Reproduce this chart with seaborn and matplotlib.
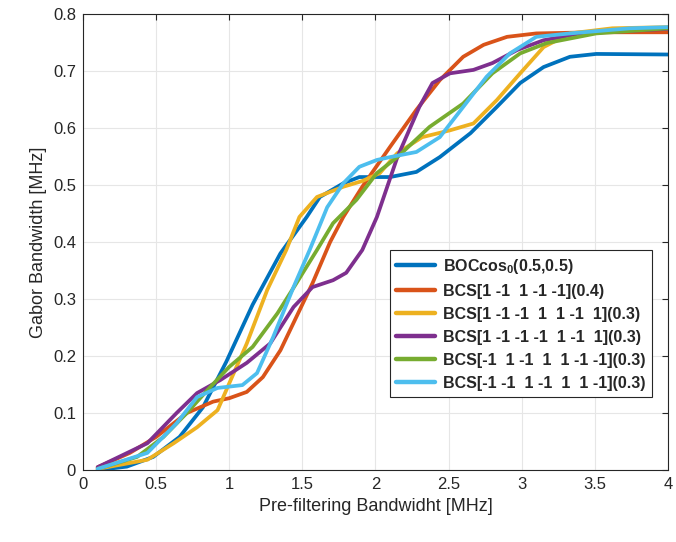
import pandas as pd
import matplotlib
matplotlib.use("Agg")
import matplotlib.pyplot as plt
import seaborn as sns

sns.set_style("whitegrid")
plt.rcParams['font.family'] = ['Liberation Sans', 'DejaVu Sans']
plt.rcParams['mathtext.fontset'] = 'custom'
plt.rcParams['mathtext.bf'] = 'Liberation Sans:bold'
plt.rcParams['mathtext.rm'] = 'Liberation Sans'

# Series (x in MHz, y in MHz)
labels = [
    r'BOCcos$_{\mathbf{0}}$(0.5,0.5)',
    'BCS[1 -1  1 -1 -1](0.4)',
    'BCS[1 -1 -1  1  1 -1  1](0.3)',
    'BCS[1 -1 -1 -1  1 -1  1](0.3)',
    'BCS[-1  1 -1  1  1 -1 -1](0.3)',
    'BCS[-1 -1  1 -1  1  1 -1](0.3)',
]
colors = ['#0072BD', '#D95319', '#EDB120', '#7E2F8E', '#77AC30', '#4DBEEE']

boc_x = [0.1, 0.3, 0.48, 0.66, 0.82, 0.98, 1.16, 1.35, 1.53, 1.62, 1.78, 1.89, 2.1, 2.28, 2.44, 2.65, 2.83, 2.99, 3.15, 3.33, 3.51, 4.0]
boc_y = [0.0, 0.006, 0.023, 0.058, 0.11, 0.19, 0.29, 0.38, 0.444, 0.479, 0.503, 0.514, 0.514, 0.523, 0.549, 0.591, 0.637, 0.679, 0.707, 0.725, 0.73, 0.729]

bcs1_x = [0.1, 0.32, 0.5, 0.71, 0.89, 1.0, 1.12, 1.23, 1.35, 1.46, 1.57, 1.69, 1.78, 1.91, 2.1, 2.28, 2.44, 2.6, 2.74, 2.9, 3.1, 3.5, 4.0]
bcs1_y = [0.005, 0.03, 0.058, 0.1, 0.12, 0.126, 0.137, 0.163, 0.21, 0.269, 0.328, 0.4, 0.444, 0.497, 0.567, 0.632, 0.684, 0.725, 0.746, 0.76, 0.766, 0.768, 0.768]

bcs2_x = [0.1, 0.44, 0.62, 0.78, 0.92, 1.0, 1.12, 1.26, 1.39, 1.48, 1.6, 1.78, 1.91, 2.03, 2.15, 2.32, 2.51, 2.67, 2.83, 2.99, 3.15, 3.33, 3.62, 4.0]
bcs2_y = [0.002, 0.018, 0.047, 0.075, 0.105, 0.152, 0.222, 0.316, 0.386, 0.444, 0.479, 0.497, 0.507, 0.521, 0.556, 0.584, 0.596, 0.608, 0.649, 0.696, 0.742, 0.766, 0.775, 0.777]

bcs3_x = [0.1, 0.44, 0.64, 0.78, 0.94, 1.12, 1.28, 1.44, 1.57, 1.71, 1.8, 1.91, 2.01, 2.15, 2.3, 2.39, 2.51, 2.67, 2.8, 2.97, 3.15, 3.4, 4.0]
bcs3_y = [0.005, 0.047, 0.1, 0.135, 0.158, 0.188, 0.222, 0.286, 0.321, 0.333, 0.346, 0.386, 0.444, 0.549, 0.637, 0.679, 0.696, 0.702, 0.714, 0.737, 0.754, 0.766, 0.774]

bcs4_x = [0.1, 0.37, 0.55, 0.71, 0.85, 1.0, 1.16, 1.33, 1.46, 1.6, 1.71, 1.87, 2.01, 2.15, 2.37, 2.6, 2.8, 2.99, 3.17, 3.51, 4.0]
bcs4_y = [0.002, 0.023, 0.058, 0.1, 0.14, 0.181, 0.216, 0.275, 0.328, 0.386, 0.433, 0.474, 0.521, 0.549, 0.602, 0.643, 0.696, 0.731, 0.749, 0.766, 0.775]

bcs5_x = [0.1, 0.44, 0.64, 0.78, 0.92, 1.09, 1.19, 1.3, 1.44, 1.55, 1.67, 1.78, 1.89, 2.01, 2.1, 2.28, 2.44, 2.6, 2.76, 2.92, 3.1, 3.33, 3.74, 4.0]
bcs5_y = [0.002, 0.03, 0.082, 0.128, 0.144, 0.149, 0.17, 0.233, 0.321, 0.386, 0.461, 0.503, 0.532, 0.544, 0.549, 0.558, 0.584, 0.637, 0.69, 0.731, 0.76, 0.766, 0.775, 0.777]

xs = [boc_x, bcs1_x, bcs2_x, bcs3_x, bcs4_x, bcs5_x]
ys = [boc_y, bcs1_y, bcs2_y, bcs3_y, bcs4_y, bcs5_y]

frames = []
for lab, x, y in zip(labels, xs, ys):
    frames.append(pd.DataFrame({'bw': x, 'gabor': y, 'signal': lab}))
df = pd.concat(frames, ignore_index=True)

fig = plt.figure(figsize=(6.76, 5.42), dpi=100)
ax = fig.add_axes([0.1228, 0.1328, 0.8652, 0.8413])

sns.lineplot(data=df, x='bw', y='gabor', hue='signal', hue_order=labels,
             palette=colors, sort=False, linewidth=2.7, ax=ax)

ax.set_xlim(0, 4)
ax.set_ylim(0, 0.8)
ax.set_xticks([0, 0.5, 1, 1.5, 2, 2.5, 3, 3.5, 4])
ax.set_xticklabels(['0', '0.5', '1', '1.5', '2', '2.5', '3', '3.5', '4'])
ax.set_yticks([0, 0.1, 0.2, 0.3, 0.4, 0.5, 0.6, 0.7, 0.8])
ax.set_yticklabels(['0', '0.1', '0.2', '0.3', '0.4', '0.5', '0.6', '0.7', '0.8'])
ax.grid(True, color='#e6e6e6', linewidth=0.8)
for s in ax.spines.values():
    s.set_color('#262626')
    s.set_linewidth(0.8)
ax.tick_params(direction='in', top=True, right=True, length=4, width=0.8,
               labelsize=12, colors='#262626', pad=5)
ax.set_xlabel('Pre-filtering Bandwidht [MHz]', fontsize=13, color='#262626')
ax.set_ylabel('Gabor Bandwidth [MHz]', fontsize=13, color='#262626')

leg = ax.legend(loc='upper left', bbox_to_anchor=(0.525, 0.482), fancybox=False,
                edgecolor='#262626', framealpha=1, prop={'weight': 'bold', 'size': 11.5},
                handlelength=2.4, borderpad=0.4, labelspacing=0.5, handletextpad=0.5,
                borderaxespad=0)
leg.get_frame().set_linewidth(0.8)
for line in leg.get_lines():
    line.set_linewidth(3.2)

fig.savefig('out.png', dpi=100)
